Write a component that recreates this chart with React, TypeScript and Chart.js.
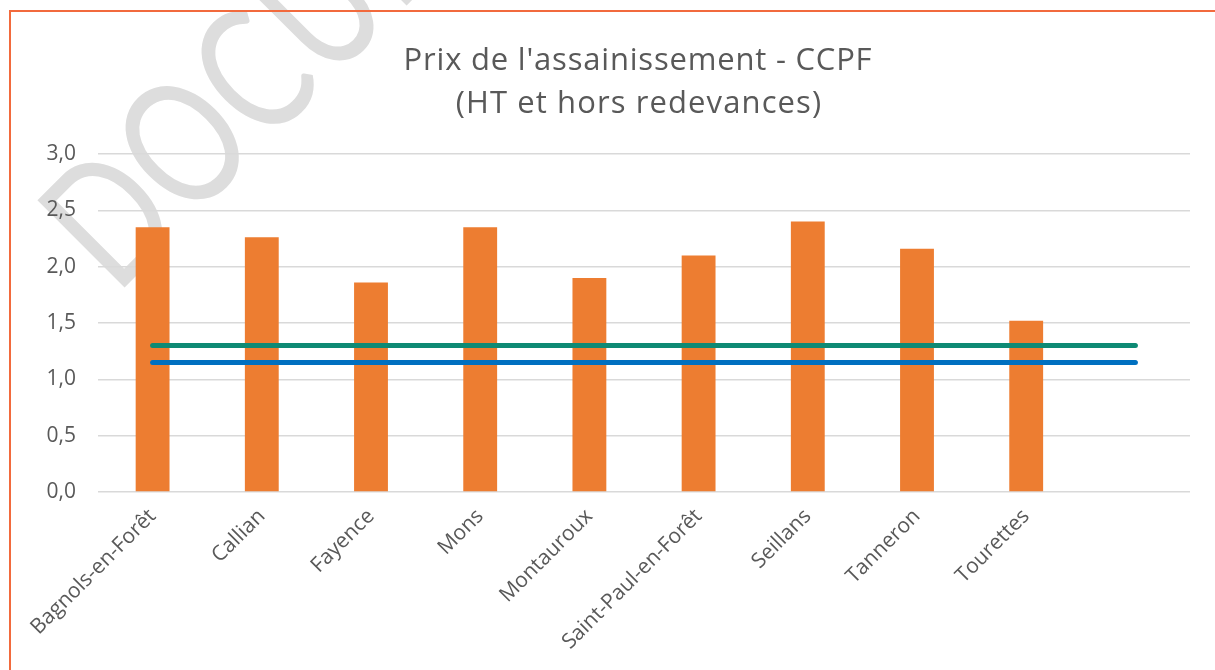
import React, { useEffect, useRef } from "react";
import { Chart, registerables } from "chart.js";

Chart.register(...registerables);

const categories = [
  "Bagnols-en-Forêt",
  "Callian",
  "Fayence",
  "Mons",
  "Montauroux",
  "Saint-Paul-en-Forêt",
  "Seillans",
  "Tanneron",
  "Tourettes",
  "",
];
const prices = [2.35, 2.26, 1.86, 2.35, 1.9, 2.1, 2.4, 2.16, 1.52, null];
const refGreen = [1.3, 1.3, 1.3, 1.3, 1.3, 1.3, 1.3, 1.3, 1.3, 1.3];
const refBlue = [1.15, 1.15, 1.15, 1.15, 1.15, 1.15, 1.15, 1.15, 1.15, 1.15];
const titleLines = ["Prix de l'assainissement - CCPF", "(HT et hors redevances)"];
const watermark = "DOCUMENT";

const TEXT = "#595959";
const GRID = "#D9D9D9";

const titlePlugin = {
  id: "customTitle",
  afterDraw(chart: any) {
    const ctx = chart.ctx;
    ctx.save();
    ctx.fillStyle = TEXT;
    ctx.font = "31px 'Open Sans'";
    ctx.textAlign = "center";
    ctx.textBaseline = "middle";
    (ctx as any).letterSpacing = "0.8px";
    ctx.fillText(titleLines[0], 638, 61);
    (ctx as any).letterSpacing = "1.1px";
    ctx.fillText(titleLines[1], 639, 104);
    ctx.restore();
  },
};

const watermarkPlugin = {
  id: "watermark",
  beforeDraw(chart: any) {
    const ctx = chart.ctx;
    ctx.save();
    ctx.translate(116, 296);
    ctx.rotate(-Math.PI / 4);
    ctx.scale(0.77, 1);
    ctx.fillStyle = "#DDDDDD";
    ctx.font = "400 172px Lato";
    (ctx as any).letterSpacing = "2px";
    ctx.textBaseline = "alphabetic";
    ctx.fillText(watermark, 0, 0);
    ctx.restore();
  },
};

export default function App() {
  const ref = useRef<HTMLCanvasElement | null>(null);
  useEffect(() => {
    if (!ref.current) return;
    const chart = new Chart(ref.current, {
      type: "bar",
      data: {
        labels: categories,
        datasets: [
          {
            type: "line",
            label: "Référence 1",
            data: refGreen,
            borderColor: "#0E8A74",
            borderWidth: 5,
            borderCapStyle: "round",
            pointRadius: 0,
            fill: false,
            order: 0,
          },
          {
            type: "line",
            label: "Référence 2",
            data: refBlue,
            borderColor: "#0070C0",
            borderWidth: 5,
            borderCapStyle: "round",
            pointRadius: 0,
            fill: false,
            order: 1,
          },
          {
            type: "bar",
            label: "Prix",
            data: prices,
            backgroundColor: "#ED7D31",
            barPercentage: 0.31,
            categoryPercentage: 1,
            order: 2,
          },
        ],
      },
      options: {
        animation: false,
        responsive: false,
        maintainAspectRatio: false,
        layout: { padding: { top: 154, right: 25, left: 0, bottom: 0 } },
        plugins: {
          legend: { display: false },
          title: { display: false },
          tooltip: { enabled: false },
        },
        scales: {
          x: {
            grid: { display: false },
            border: { display: false },
            ticks: {
              color: TEXT,
              font: { family: "'Open Sans'", size: 21 },
              minRotation: 45,
              maxRotation: 45,
              padding: 4,
              autoSkip: false,
            },
            afterFit(scale: any) {
              scale.height = 178;
            },
          },
          y: {
            min: 0,
            max: 3,
            border: { display: false },
            grid: { color: GRID, lineWidth: 1.5, drawTicks: false },
            ticks: {
              stepSize: 0.5,
              color: TEXT,
              padding: 22,
              font: { family: "'Open Sans'", size: 21 },
              callback: (v: any) => Number(v).toFixed(1).replace(".", ","),
            },
            afterFit(scale: any) {
              scale.width = 98;
            },
          },
        },
      },
      plugins: [watermarkPlugin, titlePlugin],
    });
    return () => chart.destroy();
  }, []);

  return (
    <div style={{ position: "fixed", left: 0, top: 0, width: 1215, height: 670, background: "#fff" }}>
      <canvas ref={ref} width={1215} height={670} style={{ position: "absolute", left: 0, top: 0 }} />
      <div
        style={{
          position: "absolute",
          left: 9,
          top: 10,
          right: 0,
          bottom: 0,
          borderTop: "2px solid #F26A3D",
          borderLeft: "2px solid #F26A3D",
          pointerEvents: "none",
        }}
      />
    </div>
  );
}
